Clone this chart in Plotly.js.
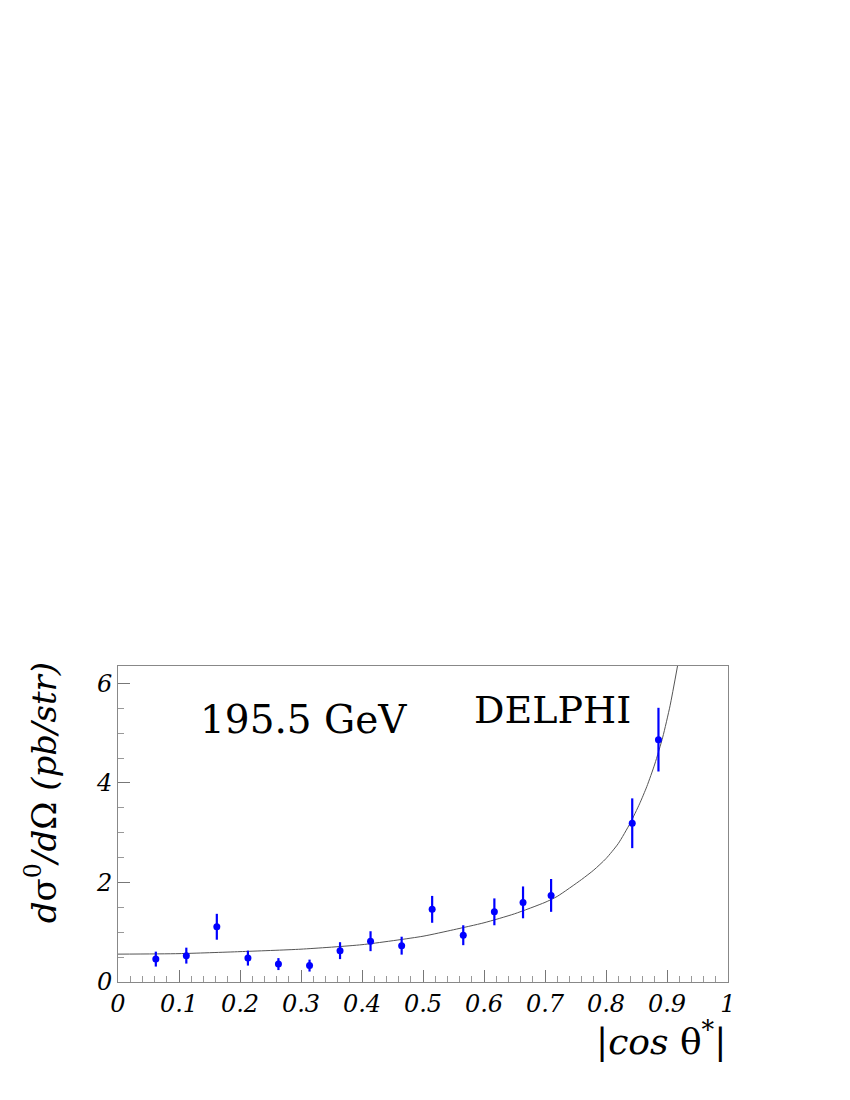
<!DOCTYPE html>
<html>
<head>
<meta charset="utf-8">
<script src="https://cdn.plot.ly/plotly-3.0.1.min.js"></script>
<style>
  body { margin: 0; background: #fff; }
  #chart { width: 850px; height: 1100px; }
</style>
</head>
<body>
<div id="chart"></div>
<script>
// measured points, |cos theta*| bins
const cosTheta = [0.062, 0.112, 0.162, 0.213, 0.263, 0.314, 0.364, 0.414,
                  0.465, 0.515, 0.566, 0.617, 0.664, 0.710, 0.843, 0.886];
const xsec     = [0.46, 0.53, 1.11, 0.48, 0.36, 0.33, 0.63, 0.82,
                  0.73, 1.46, 0.94, 1.41, 1.60, 1.74, 3.19, 4.87];
const xsecErr  = [0.15, 0.16, 0.26, 0.15, 0.12, 0.12, 0.17, 0.20,
                  0.18, 0.27, 0.20, 0.27, 0.32, 0.33, 0.50, 0.64];

// expectation curve
const curveX = [0, 0.1, 0.2, 0.3, 0.4, 0.5, 0.55, 0.6, 0.65, 0.7, 0.72, 0.76, 0.78, 0.8,
                0.82, 0.84, 0.855, 0.867, 0.88, 0.893, 0.905, 0.918];
const curveY = [0.56, 0.57, 0.61, 0.66, 0.75, 0.92, 1.05, 1.19, 1.37, 1.6, 1.72, 2.06, 2.25, 2.48,
                2.78, 3.2, 3.58, 3.93, 4.38, 4.92, 5.55, 6.4];

const serif = "DejaVu Serif";

const traces = [
    {
        x: curveX,
        y: curveY,
        mode: "lines",
        line: { color: "#555", width: 1, shape: "spline", smoothing: 0.6 },
        hoverinfo: "skip"
    },
    {
        x: cosTheta,
        y: xsec,
        mode: "markers",
        marker: { color: "#0000ff", size: 7 },
        error_y: { type: "data", array: xsecErr, color: "#0000ff", thickness: 2.2, width: 0 }
    }
];

const layout = {
    width: 850,
    height: 1100,
    showlegend: false,
    paper_bgcolor: "#fff",
    plot_bgcolor: "#fff",
    margin: { l: 118, r: 122, t: 666, b: 118 },
    font: { family: serif, color: "#000" },
    xaxis: {
        range: [0, 1],
        dtick: 0.1,
        tick0: 0,
        ticks: "inside",
        ticklen: 12,
        tickcolor: "#777",
        minor: { dtick: 0.02, ticks: "inside", ticklen: 6, tickcolor: "#999" },
        showgrid: false,
        zeroline: false,
        showline: true,
        linecolor: "#888",
        linewidth: 1,
        mirror: true,
        tickfont: { family: serif, size: 24, style: "italic" },
        fixedrange: true
    },
    yaxis: {
        range: [0, 6.35],
        dtick: 2,
        tick0: 0,
        ticks: "inside",
        ticklen: 12,
        tickcolor: "#777",
        minor: { dtick: 0.5, ticks: "inside", ticklen: 6, tickcolor: "#999" },
        showgrid: false,
        zeroline: false,
        showline: true,
        linecolor: "#888",
        linewidth: 1,
        mirror: true,
        tickfont: { family: serif, size: 24, style: "italic" },
        fixedrange: true
    },
    annotations: [
        {
            text: "195.5 GeV",
            xref: "paper", yref: "paper",
            x: 0.131, y: 0.83,
            xanchor: "left", yanchor: "middle",
            showarrow: false,
            font: { family: serif, size: 39 }
        },
        {
            text: "DELPHI",
            xref: "paper", yref: "paper",
            x: 0.58, y: 0.862,
            xanchor: "left", yanchor: "middle",
            showarrow: false,
            font: { family: serif, size: 38 }
        },
        {
            text: "<i>d</i>σ<sup>0</sup><i>/d</i>Ω <i>(pb/str)</i>",
            xref: "paper", yref: "paper",
            x: -0.125, y: 0.6,
            xanchor: "center", yanchor: "middle",
            textangle: -90,
            showarrow: false,
            font: { family: serif, size: 34 }
        },
        {
            text: "|<i>cos</i> θ<sup>*</sup>|",
            xref: "paper", yref: "paper",
            x: 1.0, y: -0.18,
            xanchor: "right", yanchor: "middle",
            showarrow: false,
            font: { family: serif, size: 36 }
        }
    ]
};

Plotly.newPlot("chart", traces, layout, { displayModeBar: false, staticPlot: true });
</script>
</body>
</html>
